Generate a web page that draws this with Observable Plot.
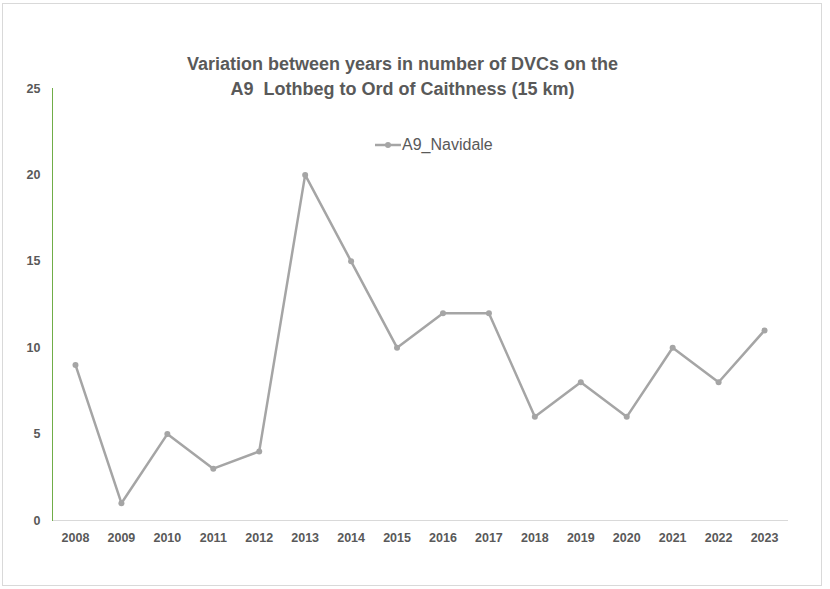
<!DOCTYPE html>
<html>
<head>
<meta charset="utf-8">
<script src="https://cdn.jsdelivr.net/npm/d3@7"></script>
<script src="https://cdn.jsdelivr.net/npm/@observablehq/plot@0.6"></script>
<style>
  html, body { margin: 0; padding: 0; background: #fff; }
  #wrap { position: relative; width: 830px; height: 589px; }
  #border { position: absolute; left: 2px; top: 3px; width: 820px; height: 583px; border: 1px solid #d9d9d9; box-sizing: border-box; }
  #title { position: absolute; left: 0; width: 805px; top: 52px; text-align: center; font-family: "Liberation Sans", Arial, sans-serif; font-weight: bold; font-size: 18px; line-height: 25px; color: #595959; }
  #legend { position: absolute; left: 375px; top: 136px; font-family: "Liberation Sans", Arial, sans-serif; font-size: 16px; color: #595959; display: flex; align-items: center; }
  #chart { position: absolute; left: 0; top: 0; }
</style>
</head>
<body>
<div id="wrap">
  <div id="border"></div>
  <div id="chart"></div>
  <div id="title">Variation between years in number of DVCs on the<br>A9&nbsp; Lothbeg to Ord of Caithness (15 km)</div>
  <div id="legend"><svg width="26" height="10"><line x1="0" y1="5" x2="26" y2="5" stroke="#a5a5a5" stroke-width="2.5"/><circle cx="13" cy="5" r="3" fill="#a5a5a5"/></svg><span style="margin-left:1px">A9_Navidale</span></div>
</div>
<script>
const years = ["2008","2009","2010","2011","2012","2013","2014","2015","2016","2017","2018","2019","2020","2021","2022","2023"];
const navidale = [9, 1, 5, 3, 4, 20, 15, 10, 12, 12, 6, 8, 6, 10, 8, 11];
const yTicks = [0, 5, 10, 15, 20, 25];

const data = years.map((y, i) => ({year: y, value: navidale[i]}));

const chart = Plot.plot({
  width: 830,
  height: 589,
  marginLeft: 52,
  marginRight: 43,
  marginTop: 88,
  marginBottom: 69,
  style: {background: "transparent", fontFamily: "'Liberation Sans', Arial, sans-serif", fontSize: "12.5px", fontWeight: "bold", color: "#595959", overflow: "visible"},
  x: {type: "band", domain: years, padding: 0, align: 0.5, round: false},
  y: {domain: [0, 25]},
  marks: [
    Plot.frame({anchor: "bottom", stroke: "#d9d9d9", strokeWidth: 1}),
    Plot.frame({anchor: "left", stroke: "#70ad47", strokeWidth: 1}),
    Plot.axisY({ticks: yTicks, tickSize: 0, tickPadding: 12, label: null, fill: "#595959"}),
    Plot.axisX({tickSize: 0, tickPadding: 13, label: null, fill: "#595959"}),
    Plot.line(data, {x: "year", y: "value", stroke: "#a5a5a5", strokeWidth: 2.5}),
    Plot.dot(data, {x: "year", y: "value", r: 3, fill: "#a5a5a5"})
  ]
});
document.getElementById("chart").appendChild(chart);
</script>
</body>
</html>
